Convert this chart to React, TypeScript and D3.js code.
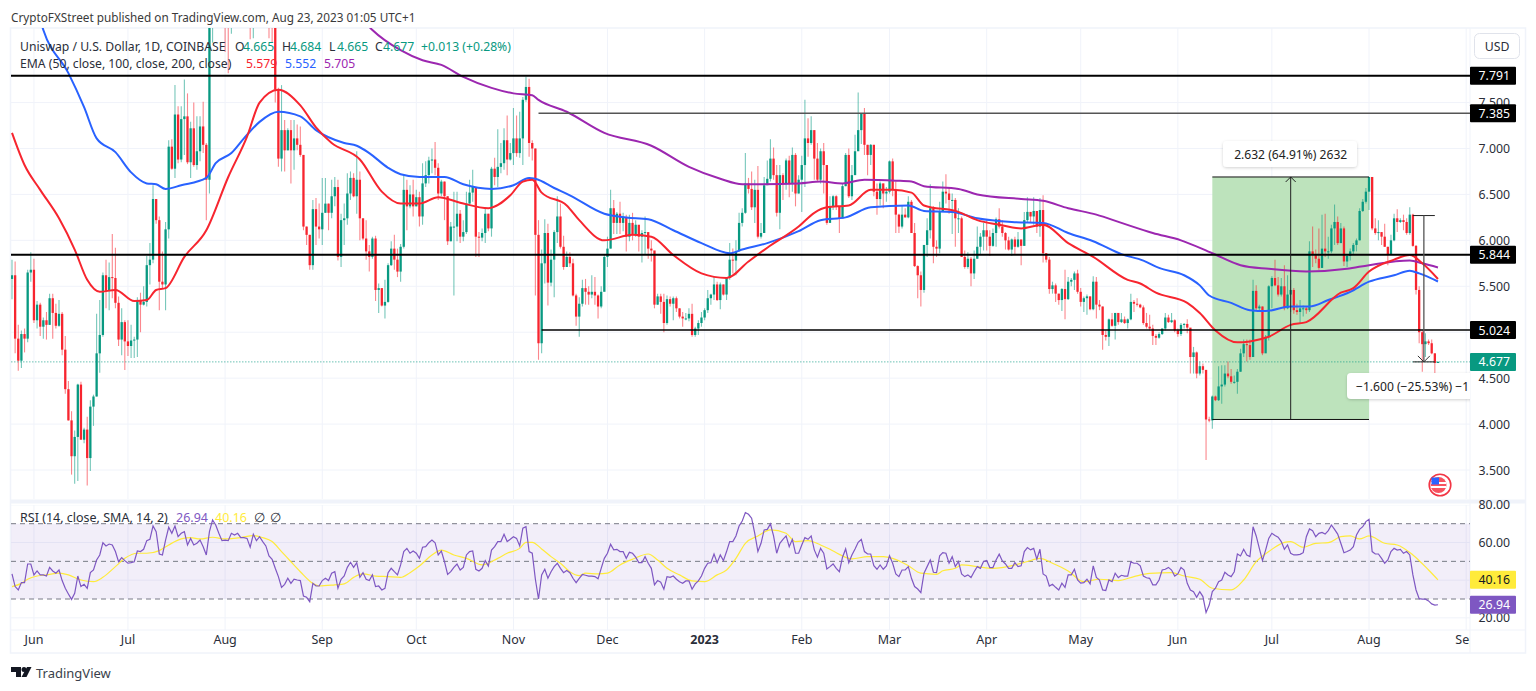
import React from "react";
import * as d3 from "d3";

const W = 1536;
const H = 691;

const startDate = Date.UTC(2022, 4, 25);
const firstOpen = 5.58;

const closes = [
  5.62,4.93,4.69,4.98,4.93,5.65,5.68,5.13,5.30,5.06,
  5.13,5.08,5.37,5.21,5.07,5.20,4.81,4.38,4.04,3.65,
  3.86,4.43,3.83,3.94,3.63,4.19,4.30,4.77,4.97,5.62,
  5.45,5.60,5.59,5.32,4.92,5.11,4.90,4.85,4.91,4.92,
  5.34,5.30,5.33,5.73,5.79,6.45,6.22,5.55,5.52,6.12,
  7.02,6.78,7.37,6.88,7.32,7.35,6.85,7.22,6.82,6.97,
  7.24,7.04,6.66,8.55,8.60,8.70,8.90,9.10,8.80,8.60,
  8.90,9.00,9.20,9.40,9.10,9.00,8.90,9.00,9.10,9.30,
  9.50,9.30,9.00,8.70,7.64,6.89,7.20,6.98,7.20,6.98,
  7.11,7.04,6.93,6.15,6.06,5.73,6.34,6.15,6.12,6.30,
  6.40,6.30,6.48,6.58,5.82,6.22,6.24,6.51,6.68,6.48,
  6.66,6.24,6.02,5.88,5.82,6.02,5.46,5.48,5.29,5.33,
  5.73,5.91,5.79,5.66,5.93,6.55,6.37,6.50,6.37,6.47,
  6.26,6.62,6.71,6.87,6.88,6.79,6.51,6.64,6.48,5.99,
  6.15,6.15,6.29,6.04,6.09,6.40,6.52,6.58,6.04,6.03,
  6.08,6.29,6.13,6.78,6.69,6.80,6.84,7.09,6.88,6.95,
  7.11,6.95,7.11,7.53,7.67,7.06,7.00,6.06,4.88,5.75,
  6.08,5.54,5.79,6.09,6.26,5.93,5.71,5.82,5.75,5.40,
  5.17,5.31,5.48,5.44,5.41,5.44,5.40,5.28,5.44,5.82,
  5.91,6.35,6.19,6.29,6.19,6.25,6.04,6.19,6.06,6.17,
  6.04,6.08,6.09,5.91,5.89,5.30,5.39,5.33,5.10,5.36,
  5.31,5.37,5.26,5.17,5.15,5.15,5.20,4.97,5.04,5.10,
  5.16,5.24,5.37,5.41,5.52,5.35,5.52,5.41,5.59,5.79,
  5.78,5.88,6.19,6.30,6.62,6.56,6.36,6.55,6.04,6.08,
  6.60,6.67,6.89,6.71,6.30,6.71,6.62,6.87,6.62,6.93,
  6.51,6.66,6.82,7.11,7.06,7.20,6.89,6.66,6.97,6.82,
  6.19,6.37,6.48,6.37,6.24,6.59,6.93,6.48,6.71,6.97,
  7.20,7.38,7.04,6.93,7.04,6.53,6.45,6.62,6.51,6.53,
  6.86,6.55,6.28,6.15,6.28,6.25,6.42,6.08,5.72,5.62,
  5.46,5.95,6.11,6.35,5.93,5.91,6.31,6.53,6.51,6.44,
  6.44,6.24,6.24,5.82,5.71,5.80,5.64,5.80,5.93,6.04,
  6.11,6.04,5.94,6.08,6.23,6.15,6.08,6.00,5.90,6.01,
  5.93,6.01,5.94,6.22,6.31,6.26,6.32,6.15,6.33,5.86,
  5.79,5.47,5.51,5.42,5.35,5.47,5.36,5.55,5.57,5.64,
  5.44,5.33,5.37,5.39,5.25,5.55,5.30,5.28,4.97,4.95,
  5.14,5.07,5.21,5.11,5.14,5.10,5.14,5.33,5.31,5.30,
  5.27,5.10,5.06,5.04,4.96,4.94,4.98,5.04,5.16,5.11,
  5.13,5.02,4.98,5.08,5.09,5.05,4.73,4.78,4.55,4.63,
  4.59,4.05,4.04,4.30,4.26,4.41,4.43,4.55,4.52,4.46,
  4.46,4.57,4.77,4.87,4.86,4.73,5.45,5.26,5.28,4.77,
  4.95,5.50,5.59,5.51,5.41,5.50,5.26,5.41,5.46,5.24,
  5.22,5.26,5.26,5.24,5.88,5.84,5.80,5.70,5.91,5.88,
  5.88,6.13,6.20,5.97,6.13,5.77,5.83,5.88,5.95,6.00,
  6.32,6.42,6.53,6.69,6.13,6.08,6.09,6.04,5.93,5.84,
  6.00,6.24,6.20,6.22,6.20,6.08,6.28,5.94,5.46,5.00,
  4.87,4.90,4.88,4.77,4.665,4.677,
];

const highs = [
  5.79,5.77,5.08,5.02,5.04,5.68,5.87,5.80,5.34,5.32,
  5.16,5.22,5.42,5.42,5.31,5.35,5.22,4.96,4.47,4.14,
  3.93,4.44,4.46,3.96,4.08,4.26,4.32,5.20,5.35,5.65,
  5.79,5.76,6.07,5.92,5.39,5.26,5.13,5.13,5.08,4.95,
  5.38,5.43,5.50,5.83,5.97,6.60,6.45,6.26,5.88,6.20,
  7.09,7.10,7.69,7.46,7.46,7.75,7.60,7.29,7.50,7.35,
  7.35,7.51,7.06,8.80,8.80,8.90,9.10,9.30,9.30,9.00,
  9.10,9.20,9.40,9.60,9.50,9.30,9.20,9.20,9.30,9.50,
  9.70,9.60,9.40,9.10,8.80,7.66,7.69,7.31,7.22,7.31,
  7.31,7.26,7.24,6.93,6.15,6.06,6.44,6.46,6.40,6.68,
  6.68,6.40,6.66,6.69,6.66,6.29,6.40,6.73,6.75,6.73,
  6.97,6.75,6.24,6.22,5.95,6.04,6.05,5.53,5.48,5.57,
  5.75,5.99,6.06,5.91,5.96,6.71,6.66,6.60,6.66,6.55,
  6.53,6.84,6.86,6.91,7.00,7.07,6.84,6.66,6.64,6.48,
  6.20,6.53,6.53,6.33,6.22,6.53,6.66,6.77,6.58,6.09,
  6.13,6.35,6.29,6.80,6.90,7.21,7.06,7.22,7.36,7.06,
  7.44,7.36,7.40,7.56,7.78,7.76,7.09,7.00,6.22,5.90,
  6.23,6.18,5.90,6.11,6.48,6.40,6.05,5.88,5.87,5.80,
  5.42,5.38,5.57,5.58,5.50,5.62,5.60,5.41,5.50,5.84,
  6.04,6.55,6.44,6.31,6.42,6.30,6.28,6.28,6.30,6.22,
  6.09,6.11,6.26,6.09,6.00,5.79,5.42,5.42,5.42,5.40,
  5.39,5.39,5.39,5.26,5.22,5.21,5.26,5.31,5.06,5.13,
  5.22,5.26,5.46,5.42,5.60,5.55,5.54,5.52,5.60,5.97,
  5.91,6.00,6.30,6.35,6.95,6.68,6.75,6.66,6.81,6.19,
  6.69,6.87,7.10,7.01,6.82,6.82,6.73,6.89,6.92,7.01,
  6.95,6.71,6.92,7.53,7.33,7.35,7.20,7.06,7.00,7.06,
  6.82,6.48,6.49,6.49,6.37,6.62,6.95,7.00,6.82,7.15,
  7.61,7.38,7.44,7.04,7.05,7.04,6.62,6.64,6.62,6.58,
  6.87,6.89,6.64,6.29,6.38,6.35,6.48,6.44,6.19,5.73,
  5.66,5.95,6.24,6.61,6.37,6.00,6.42,6.64,6.72,6.58,
  6.51,6.46,6.35,6.26,5.89,5.87,5.82,5.89,6.15,6.08,
  6.19,6.22,6.11,6.13,6.25,6.35,6.22,6.09,6.04,6.02,
  6.04,6.09,6.00,6.31,6.47,6.31,6.47,6.32,6.46,6.49,
  5.86,5.82,5.55,5.53,5.42,5.48,5.68,5.60,5.59,5.66,
  5.68,5.48,5.39,5.41,5.39,5.61,5.60,5.35,5.28,5.02,
  5.15,5.21,5.21,5.21,5.21,5.17,5.15,5.42,5.35,5.37,
  5.31,5.29,5.21,5.19,5.08,4.98,5.00,5.04,5.21,5.19,
  5.21,5.14,5.04,5.10,5.10,5.14,5.02,4.84,4.79,4.68,
  4.66,4.59,4.08,4.31,4.31,4.63,4.64,4.64,4.68,4.60,
  4.53,4.60,4.82,4.92,4.92,4.92,5.57,5.51,5.30,5.28,
  4.97,5.51,5.61,5.79,5.60,5.59,5.73,5.62,5.57,5.48,
  5.31,5.35,5.29,5.28,5.99,6.15,5.90,6.13,6.28,6.29,
  6.04,6.17,6.39,6.26,6.19,6.15,5.85,5.91,5.97,6.02,
  6.35,6.45,6.57,6.69,6.69,6.24,6.22,6.09,6.18,5.93,
  6.06,6.29,6.34,6.24,6.28,6.24,6.36,6.29,5.95,5.50,
  5.02,4.99,4.92,4.92,4.77,4.684,
];

const lows = [
  5.36,4.77,4.58,4.61,4.78,4.89,5.55,5.10,5.04,4.96,
  4.93,4.92,5.08,4.93,5.04,5.06,4.75,4.33,4.04,3.45,
  3.35,3.38,3.83,3.79,3.33,3.49,3.98,4.30,4.56,4.95,
  5.26,5.24,5.37,5.26,4.85,4.75,4.59,4.74,4.72,4.72,
  4.73,5.00,5.29,5.28,5.52,5.75,6.18,5.24,5.48,5.24,
  6.02,6.77,6.68,6.84,6.85,6.93,6.83,6.68,6.80,6.77,
  6.86,6.95,6.22,6.51,8.15,8.45,8.50,8.70,8.05,7.82,
  8.25,8.60,8.70,9.00,8.90,8.70,8.19,8.20,8.80,9.00,
  9.10,9.00,8.20,8.15,7.50,6.80,6.75,6.75,6.98,6.62,
  6.77,6.98,6.91,6.11,5.95,5.68,5.68,5.95,6.02,5.95,
  6.30,6.11,6.24,6.37,5.78,5.71,5.95,6.17,6.44,6.47,
  6.29,6.00,6.00,5.79,5.66,5.80,5.34,5.21,5.28,5.15,
  5.32,5.72,5.68,5.60,5.55,5.91,6.11,6.35,6.26,6.37,
  6.15,6.17,6.58,6.62,6.73,6.71,6.44,6.48,6.22,5.95,
  5.99,5.40,5.99,5.97,5.99,6.07,6.40,6.42,5.82,5.82,
  5.99,5.97,6.10,6.04,6.60,6.58,6.73,6.77,6.71,6.87,
  6.82,6.91,6.90,6.82,7.51,6.91,6.87,5.40,4.70,4.77,
  5.53,5.29,5.50,5.38,5.97,5.91,5.68,5.71,5.71,5.39,
  5.07,4.95,5.28,5.30,5.30,5.37,5.30,5.15,5.26,5.45,
  5.71,5.91,6.07,6.07,6.07,6.10,5.88,5.99,6.00,6.04,
  5.88,5.76,5.84,5.80,5.77,5.26,5.30,5.20,5.00,5.08,
  5.28,5.13,5.22,5.15,5.06,5.13,5.12,4.95,4.95,4.97,
  5.06,5.13,5.21,5.30,5.35,5.34,5.25,5.40,5.35,5.57,
  5.64,5.62,5.90,6.15,6.29,6.51,6.33,6.19,6.02,6.02,
  6.17,6.62,6.64,6.66,6.26,6.12,6.44,6.55,6.47,6.53,
  6.37,6.51,6.31,6.58,6.91,7.04,6.66,6.64,6.62,6.51,
  6.17,6.24,6.33,6.33,6.08,6.24,6.59,6.46,6.44,6.73,
  7.05,7.05,6.93,6.71,6.82,6.48,6.28,6.38,6.35,6.42,
  6.51,6.48,6.08,6.08,6.13,6.25,6.24,6.08,5.71,5.37,
  5.28,5.43,5.82,6.02,5.75,5.82,5.86,6.31,6.40,6.29,
  6.07,5.93,6.08,5.82,5.69,5.69,5.50,5.58,5.80,5.84,
  5.89,5.89,5.83,5.93,5.93,6.13,6.04,5.90,5.89,5.83,
  5.84,5.92,5.73,5.94,6.20,6.19,6.17,6.08,6.04,5.76,
  5.76,5.42,5.42,5.33,5.30,5.23,5.14,5.35,5.50,5.46,
  5.42,5.28,5.22,5.19,5.24,5.24,5.15,5.24,4.81,4.91,
  4.85,5.06,4.92,5.08,5.10,5.09,5.04,5.13,5.22,5.28,
  5.26,5.08,5.04,5.02,4.86,4.86,4.93,4.97,5.02,5.10,
  5.10,5.00,4.95,4.96,5.04,4.99,4.55,4.55,4.50,4.53,
  4.55,3.61,4.02,3.95,4.25,4.25,4.22,4.41,4.50,4.44,
  4.44,4.33,4.57,4.73,4.68,4.70,4.73,5.24,5.22,4.75,
  4.80,4.91,5.26,5.50,5.39,5.39,5.24,5.25,5.22,5.20,
  5.19,5.10,5.17,5.20,5.22,5.71,5.75,5.68,5.70,5.82,
  5.80,5.86,5.95,5.95,5.97,5.72,5.71,5.78,5.84,5.88,
  6.00,6.31,6.40,6.33,6.11,6.06,6.00,5.95,5.93,5.73,
  5.84,5.99,6.09,6.19,6.11,6.06,6.06,5.93,5.41,4.88,
  4.57,4.73,4.86,4.76,4.50,4.665,
];

const rsiValues = [
  43.3,36.6,34.8,38.7,38.7,48.6,48.6,42.8,44.9,42.8,42.8,42.2,46.8,44.9,43.7,45.4,39.8,35.7,32.7,29.8,
  33.0,42.2,36.6,37.8,35.7,44.0,45.4,50.7,53.4,59.9,58.2,59.2,58.7,55.2,49.8,52.0,50.4,49.0,49.3,49.8,
  55.5,55.2,56.4,61.0,61.7,68.8,65.8,53.9,53.4,61.3,68.1,64.9,68.8,63.1,64.9,65.8,58.7,62.2,58.7,59.6,
  61.3,57.8,53.4,65.8,72.0,69.3,64.9,61.0,61.3,61.0,64.9,64.0,64.9,62.6,62.6,62.2,57.5,64.4,61.0,63.1,
  60.5,58.2,52.9,51.1,46.3,41.9,36.2,37.8,41.0,38.3,40.5,40.1,39.8,31.6,30.9,28.6,38.3,36.9,36.9,39.8,
  41.0,39.8,43.7,44.5,35.7,40.5,42.2,46.8,49.5,46.8,49.3,41.5,44.0,40.5,39.8,42.8,36.6,36.9,34.8,35.7,
  44.0,46.3,44.5,42.8,48.1,55.2,56.9,54.3,55.5,54.3,51.6,57.5,57.8,59.9,61.3,59.9,53.4,55.5,49.8,43.1,
  44.5,46.8,48.6,45.4,46.8,53.4,55.2,55.5,45.8,44.9,46.3,50.4,47.5,56.0,57.8,60.5,
  60.5,64.4,60.5,61.7,63.1,62.2,58.2,67.6,68.4,55.2,54.3,40.5,30.0,42.8,45.8,41.0,44.5,47.2,49.0,46.3,
  44.0,45.1,44.0,41.0,38.7,41.0,43.0,42.6,42.2,42.1,41.9,40.7,46.3,51.6,54.3,59.1,56.1,56.4,55.2,55.2,
  51.6,54.8,54.3,52.2,49.3,49.3,52.5,49.0,46.3,37.5,39.8,38.9,35.2,41.9,41.5,42.2,40.5,39.2,38.4,39.6,
  39.6,35.2,38.0,39.6,42.2,46.3,49.0,49.3,53.9,49.3,53.4,50.4,55.2,60.5,60.5,63.5,68.8,71.4,75.9,75.0,
  72.9,64.9,55.2,59.6,66.7,67.0,69.9,63.5,54.3,59.6,61.7,63.5,57.8,61.7,54.3,54.3,58.7,62.6,61.7,63.5,
  56.1,52.2,56.9,
  54.3,46.0,47.2,48.6,46.3,44.5,52.2,56.6,49.3,53.4,56.6,60.1,61.7,55.2,53.9,53.9,47.7,45.8,48.1,45.8,
  47.6,53.0,49.0,43.3,41.9,45.4,45.4,47.2,41.0,36.6,35.3,33.4,43.7,47.2,50.7,44.2,44.0,52.9,54.6,54.3,
  49.0,52.5,47.2,49.9,43.3,41.9,42.8,41.4,44.5,47.2,46.3,49.9,50.4,46.7,46.7,50.7,53.8,50.2,48.6,46.3,
  46.3,49.3,47.2,47.6,55.2,57.3,56.1,56.9,51.1,56.4,43.3,42.2,36.9,37.8,36.2,34.8,38.4,36.2,42.8,42.8,
  45.8,40.1,38.4,38.7,40.5,38.0,47.6,41.5,40.1,34.8,34.5,40.1,39.2,43.7,41.4,42.6,42.2,42.2,49.7,49.0,
  49.0,47.6,
  42.2,41.3,41.0,37.5,37.5,40.1,45.4,45.8,46.8,45.4,42.2,43.3,46.8,45.4,38.3,34.8,33.9,30.9,33.9,31.3,
  22.8,26.8,33.9,35.7,39.2,40.1,44.2,42.8,41.9,44.5,53.9,52.9,56.4,53.4,52.5,68.4,63.5,56.9,50.4,56.0,
  62.2,64.9,63.7,62.8,60.5,56.4,58.7,54.3,53.4,53.4,53.7,54.6,63.1,67.2,66.3,63.1,64.9,65.4,64.5,66.3,
  69.3,67.0,64.5,59.6,54.6,55.2,56.0,57.8,64.0,67.0,68.4,71.1,72.3,55.2,53.9,53.9,51.6,49.0,50.7,55.2,
  56.9,56.0,56.4,54.3,55.2,53.4,42.8,34.8,30.2,29.9,29.9,29.0,27.4,26.8,26.94,
];

const rsiSmaDays = [
  0,3,5,8,11,15,18,22,26,29,33,36,40,43,47,50,54,57,60,64,68,73,77,80,83,86,89,92,96,98,
  103,106,109,112,116,120,124,127,130,134,137,141,145,150,155,158,162,164,166,169,172,175,178,181,183,187,190,194,198,203,
  206,209,213,217,221,225,228,231,234,238,242,247,250,254,258,261,264,268,273,278,281,286,290,295,297,301,303,308,313,320,
  324,328,332,337,342,347,353,358,363,370,374,379,383,389,393,397,401,406,408,412,416,420,424,427,430,433,438,442,447,452,455,
];
const rsiSmaValues = [
  36.6,38.3,40.5,42.2,42.8,43.7,42.8,40.1,39.2,41.5,47.2,51.6,54.3,54.3,55.7,58.7,61.9,62.6,61.9,62.8,61.9,62.6,63.7,62.6,60.5,55.2,49.8,44.5,38.3,36.9,
  37.5,38.0,41.5,43.3,42.2,41.9,41.5,44.0,47.5,53.4,56.0,53.4,51.6,48.1,51.6,54.3,56.9,60.1,60.1,56.6,52.5,49.0,44.5,42.4,43.7,43.3,43.7,48.1,51.1,53.9,
  50.7,46.3,42.8,39.6,39.2,42.8,45.4,51.6,59.6,63.5,66.7,64.9,60.5,61.0,58.7,56.4,53.7,51.3,52.5,52.5,51.6,47.7,43.7,43.1,45.0,46.3,48.1,47.2,46.3,48.1,
  49.9,51.6,49.0,44.9,39.2,40.5,39.8,41.9,43.6,44.0,42.2,40.5,35.7,34.8,40.1,49.8,55.2,60.1,60.5,57.5,59.6,59.9,63.1,63.5,61.9,63.5,59.6,58.7,53.4,45.4,40.16,
];

const emaRedDays = [
  0,4,9,15,20,24,28,33,39,43,46,49,55,62,69,75,79,85,92,97,102,111,118,124,130,136,143,152,159,163,166,169,177,181,189,198,204,211,220,228,235,241,251,256,260,267,274,281,287,291,302,308,315,322,329,337,345,356,360,365,375,379,384,391,395,401,408,413,424,428,433,441,446,450,455,
];
const emaRedValues = [
  7.17,6.82,6.55,6.24,5.90,5.57,5.44,5.46,5.34,5.35,5.46,5.48,5.82,6.11,6.69,7.13,7.50,7.64,7.47,7.23,7.06,6.88,6.53,6.40,6.40,6.47,6.41,6.35,6.49,6.64,6.66,6.52,6.38,6.22,6.00,6.06,6.04,5.84,5.64,5.59,5.77,5.92,6.15,6.30,6.36,6.38,6.55,6.55,6.52,6.38,6.31,6.22,6.17,6.13,6.17,5.97,5.82,5.57,5.53,5.43,5.32,5.21,5.02,4.89,4.90,4.95,5.08,5.11,5.43,5.48,5.66,5.79,5.84,5.75,5.579,
];

const emaBlueDays = [
  0,5,10,18,23,27,33,38,43,46,49,54,62,65,70,74,79,85,92,97,106,110,114,120,124,130,138,144,153,160,165,167,173,178,189,196,203,211,220,229,233,241,251,258,266,274,286,291,300,308,319,329,337,345,354,361,366,374,379,382,389,395,400,408,414,420,427,433,441,446,449,455,
];
const emaBlueValues = [
  9.60,8.95,8.29,7.82,7.45,7.11,6.96,6.74,6.62,6.61,6.56,6.60,6.68,6.84,6.95,7.11,7.29,7.40,7.35,7.20,7.06,7.03,6.95,6.79,6.72,6.69,6.69,6.61,6.56,6.60,6.68,6.67,6.57,6.49,6.29,6.25,6.23,6.11,5.97,5.86,5.90,5.97,6.10,6.22,6.25,6.36,6.38,6.32,6.31,6.24,6.20,6.19,6.08,5.99,5.85,5.78,5.70,5.62,5.51,5.40,5.32,5.24,5.23,5.28,5.28,5.35,5.44,5.55,5.62,5.67,5.64,5.552,
];

const emaPurpleDays = [
  100,115,124,131,137,144,153,160,166,168,177,189,204,216,226,233,251,258,265,272,282,287,291,302,308,322,329,337,346,354,364,373,383,392,401,413,426,433,446,450,455,
];
const emaPurpleValues = [
  9.00,8.29,8.07,7.96,7.91,7.78,7.66,7.60,7.58,7.53,7.40,7.17,7.03,6.80,6.67,6.61,6.62,6.64,6.62,6.66,6.65,6.64,6.59,6.56,6.50,6.45,6.43,6.35,6.28,6.19,6.08,6.00,5.86,5.73,5.69,5.66,5.69,5.73,5.78,5.75,5.705,
];

const priceTicks = [7.5, 7, 6.5, 6, 5.5, 5, 4.5, 4, 3.5];
const rsiTicks = [80, 60, 40, 20];
const rsiBands = [70, 50, 30];
const monthLabels = ["Jun", "Jul", "Aug", "Sep", "Oct", "Nov", "Dec", "2023", "Feb", "Mar", "Apr", "May", "Jun", "Jul", "Aug", "Sep"];
const monthDates = [
  Date.UTC(2022, 5, 1), Date.UTC(2022, 6, 1), Date.UTC(2022, 7, 1), Date.UTC(2022, 8, 1),
  Date.UTC(2022, 9, 1), Date.UTC(2022, 10, 1), Date.UTC(2022, 11, 1), Date.UTC(2023, 0, 1),
  Date.UTC(2023, 1, 1), Date.UTC(2023, 2, 1), Date.UTC(2023, 3, 1), Date.UTC(2023, 4, 1),
  Date.UTC(2023, 5, 1), Date.UTC(2023, 6, 1), Date.UTC(2023, 7, 1), Date.UTC(2023, 8, 1),
];

const levelBlack1 = 7.791;
const levelGray = 7.385;
const levelBlack2 = 5.844;
const levelBlack3 = 5.024;
const lastPrice = 4.677;
const rangeUpDays = [383, 433];
const rangeUpPrices = [4.05, 6.69];
const rangeDownDays = [447, 454];
const rangeDownPrices = [6.27, 4.677];
const levelGrayStartDay = 168;
const levelBlack3StartDay = 169;

const GREEN = "#089981";
const RED = "#f7252f";
const BLUE = "#2962ff";
const PURPLE = "#9c27b0";
const RSI = "#7e57c2";
const YELLOW = "#ffeb3b";
const GRID = "#f0f3fa";
const FONT = "'Noto Sans', sans-serif";

const plotL = 11;
const plotR = 1470;
const priceTop = 28;
const priceBottom = 499;
const rsiTop = 505;
const rsiBottom = 630;

const x = d3.scaleLinear().domain([0, 455]).range([12, 12 + 455 * 3.134]);
const y = d3.scaleLinear().domain([3.5, 7]).range([470, 148.5]);
const ry = d3.scaleLinear().domain([30, 70]).range([599, 523.7]);

const dayOf = (t: number) => d3.utcDay.count(new Date(startDate), new Date(t));

function series(days: number[], vals: number[], sy: (v: number) => number) {
  const line = d3
    .line<number>()
    .x((d) => x(d))
    .y((_, i) => sy(vals[i]))
    .curve(d3.curveMonotoneX);
  return line(days) as string;
}

const rsiLine = d3
  .line<number>()
  .x((_, i) => x(i))
  .y((d) => ry(d))(rsiValues) as string;

function PriceBox({ fill, color, py, label }: { fill: string; color: string; py: number; label: string }) {
  return (
    <g>
      <rect x={plotR} y={py - 9} width={46} height={18} fill={fill} rx={1} />
      <text x={1510} y={py} textAnchor="end" dominantBaseline="central" fill={color} fontSize={12.3}>
        {label}
      </text>
    </g>
  );
}

export default function App() {
  const monthX = monthDates.map((t) => x(dayOf(t)));
  const upL = x(rangeUpDays[0]);
  const upR = x(rangeUpDays[1]);
  const upT = y(rangeUpPrices[1]);
  const upB = y(rangeUpPrices[0]);
  const upM = (upL + upR) / 2;
  const dnL = x(rangeDownDays[0]);
  const dnR = x(rangeDownDays[1]);
  const dnT = y(rangeDownPrices[0]);
  const dnB = y(rangeDownPrices[1]);
  const dnM = (dnL + dnR) / 2;
  return (
    <svg
      width={W}
      height={H}
      viewBox={`0 0 ${W} ${H}`}
      style={{ position: "absolute", left: 0, top: 0, display: "block", background: "#fff" }}
      fontFamily={FONT}
    >
      <defs>
        <clipPath id="pricePane">
          <rect x={plotL} y={priceTop} width={plotR - plotL} height={priceBottom - priceTop} />
        </clipPath>
        <clipPath id="rsiPane">
          <rect x={plotL} y={rsiTop} width={plotR - plotL} height={rsiBottom - rsiTop} />
        </clipPath>
        <clipPath id="timeAxis">
          <rect x={plotL} y={rsiBottom} width={plotR - plotL} height={24} />
        </clipPath>
        <filter id="soft" x="-10%" y="-30%" width="120%" height="170%">
          <feDropShadow dx={0} dy={1} stdDeviation={1.5} floodColor="#000" floodOpacity={0.18} />
        </filter>
      </defs>

      <text x={11} y={17} dominantBaseline="central" fontSize={11.75} fill="#3a3a3a">
        CryptoFXStreet published on TradingView.com, Aug 23, 2023 01:05 UTC+1
      </text>

      {/* frame */}
      <rect x={10.5} y={28} width={1515} height={625} fill="none" stroke={GRID} strokeWidth={1.5} />
      <line x1={plotL} x2={1525} y1={501.5} y2={501.5} stroke={GRID} strokeWidth={4} />
      <line x1={plotL} x2={1525} y1={rsiBottom} y2={rsiBottom} stroke={GRID} strokeWidth={1} />
      <line x1={plotR} x2={plotR} y1={28} y2={653} stroke={GRID} strokeWidth={1} />

      {/* price pane */}
      <g clipPath="url(#pricePane)">
        {monthX.map((mx, i) => (
          <line key={i} x1={mx} x2={mx} y1={priceTop} y2={priceBottom} stroke={GRID} strokeWidth={1} />
        ))}
        {priceTicks.map((t) => (
          <line key={t} x1={plotL} x2={plotR} y1={y(t)} y2={y(t)} stroke={GRID} strokeWidth={1} />
        ))}
        <rect x={upL} y={upT} width={upR - upL} height={upB - upT} fill="#bde3bc" />
        {closes.map((c, i) => {
          const o = i === 0 ? firstOpen : closes[i - 1];
          const col = c >= o ? GREEN : RED;
          const cx = x(i);
          return (
            <g key={i}>
              <line x1={cx} x2={cx} y1={y(highs[i])} y2={y(lows[i])} stroke={col} strokeWidth={1.1} strokeOpacity={0.55} />
              <rect x={cx - 1.15} width={2.3} y={y(Math.max(o, c))} height={Math.max(1, Math.abs(y(o) - y(c)))} fill={col} />
            </g>
          );
        })}
        <line x1={plotL} x2={plotR} y1={y(lastPrice)} y2={y(lastPrice)} stroke={GREEN} strokeOpacity={0.6} strokeWidth={1} strokeDasharray="1.5 1.5" />
        <path d={series(emaPurpleDays, emaPurpleValues, y)} fill="none" stroke={PURPLE} strokeWidth={2} />
        <path d={series(emaBlueDays, emaBlueValues, y)} fill="none" stroke={BLUE} strokeWidth={2} />
        <path d={series(emaRedDays, emaRedValues, y)} fill="none" stroke={RED} strokeWidth={2} />

        <line x1={plotL} x2={plotR} y1={y(levelBlack1)} y2={y(levelBlack1)} stroke="#000" strokeWidth={2} />
        <line x1={x(levelGrayStartDay)} x2={plotR} y1={y(levelGray)} y2={y(levelGray)} stroke="#555" strokeWidth={1.5} />
        <line x1={plotL} x2={plotR} y1={y(levelBlack2)} y2={y(levelBlack2)} stroke="#000" strokeWidth={2} />
        <line x1={x(levelBlack3StartDay)} x2={plotR} y1={y(levelBlack3)} y2={y(levelBlack3)} stroke="#000" strokeWidth={1.7} />

        {/* long range */}
        <line x1={upL} x2={upR} y1={upT} y2={upT} stroke="#111" strokeWidth={1} />
        <line x1={upL} x2={upR} y1={upB} y2={upB} stroke="#111" strokeWidth={1} />
        <line x1={upM} x2={upM} y1={upT} y2={upB} stroke="#222" strokeWidth={1} />
        <path d={`M${upM - 5} ${upT + 5}L${upM} ${upT}L${upM + 5} ${upT + 5}`} fill="none" stroke="#222" strokeWidth={1} />

        {/* down range */}
        <line x1={dnL} x2={dnR} y1={dnT} y2={dnT} stroke="#222" strokeWidth={1} />
        <line x1={dnL} x2={dnR} y1={dnB} y2={dnB} stroke="#222" strokeWidth={1} />
        <line x1={dnM} x2={dnM} y1={dnT} y2={dnB} stroke="#555" strokeWidth={1.3} />
        <path d={`M${dnM - 6} ${dnB - 6}L${dnM} ${dnB}L${dnM + 6} ${dnB - 6}`} fill="none" stroke="#333" strokeWidth={1} />

        <g filter="url(#soft)">
          <rect x={1223} y={141} width={134} height={26} rx={4} fill="#fff" />
        </g>
        <text x={upM} y={154} textAnchor="middle" dominantBaseline="central" fontSize={12.1} fill="#222">
          2.632 (64.91%) 2632
        </text>
        <g filter="url(#soft)">
          <rect x={1347} y={373} width={150} height={26} rx={4} fill="#fff" />
        </g>
        <text x={1356} y={386} dominantBaseline="central" fontSize={12.1} fill="#222">
          −1.600 (−25.53%) −1
        </text>

        {/* flag */}
        <circle cx={1440} cy={485} r={10.8} fill="#fff" stroke="#f23645" strokeWidth={1.6} />
        <circle cx={1438.5} cy={485} r={8} fill="#f7525f" />
        <rect x={1431} y={482} width={15} height={2} fill="#fff" />
        <rect x={1431} y={486} width={15} height={2} fill="#fff" />
        <rect x={1431.5} y={477.5} width={7.5} height={7} fill="#2962ff" />
      </g>

      {/* price legend */}
      <g fontSize={12.2} dominantBaseline="central">
        <text x={20} y={46} fill="#2a2e39">
          Uniswap / U.S. Dollar, 1D, COINBASE
        </text>
        <text x={235} y={46} fill="#2a2e39">O</text>
        <text x={243} y={46} fill={GREEN}>4.665</text>
        <text x={282} y={46} fill="#2a2e39">H</text>
        <text x={290} y={46} fill={GREEN}>4.684</text>
        <text x={329} y={46} fill="#2a2e39">L</text>
        <text x={337} y={46} fill={GREEN}>4.665</text>
        <text x={375} y={46} fill="#2a2e39">C</text>
        <text x={383} y={46} fill={GREEN}>4.677</text>
        <text x={421} y={46} fill={GREEN}>+0.013 (+0.28%)</text>
        <text x={20} y={63} fill="#2a2e39">
          EMA (50, close, 100, close, 200, close)
        </text>
        <text x={246} y={63} fill={RED}>5.579</text>
        <text x={285} y={63} fill={BLUE}>5.552</text>
        <text x={324} y={63} fill={PURPLE}>5.705</text>
      </g>

      {/* rsi pane */}
      <g clipPath="url(#rsiPane)">
        {monthX.map((mx, i) => (
          <line key={i} x1={mx} x2={mx} y1={rsiTop} y2={rsiBottom} stroke={GRID} strokeWidth={1} />
        ))}
        {rsiTicks.map((t) => (
          <line key={t} x1={plotL} x2={plotR} y1={ry(t)} y2={ry(t)} stroke={GRID} strokeWidth={1} />
        ))}
        <rect x={plotL} width={plotR - plotL} y={ry(70)} height={ry(30) - ry(70)} fill={RSI} fillOpacity={0.1} />
        {rsiBands.map((t) => (
          <line key={t} x1={plotL} x2={plotR} y1={ry(t)} y2={ry(t)} stroke="#787b86" strokeWidth={1} strokeDasharray="5 4" />
        ))}
        <path d={series(rsiSmaDays, rsiSmaValues, ry)} fill="none" stroke={YELLOW} strokeWidth={1.2} />
        <path d={rsiLine} fill="none" stroke={RSI} strokeWidth={1.2} />
      </g>
      <g fontSize={12.5} dominantBaseline="central">
        <text x={20} y={517} fill="#2a2e39">RSI (14, close, SMA, 14, 2)</text>
        <text x={176} y={517} fill={RSI}>26.94</text>
        <text x={215} y={517} fill={YELLOW}>40.16</text>
        <text x={254} y={517} fill="#2a2e39">∅</text>
        <text x={270} y={517} fill="#2a2e39">∅</text>
      </g>

      {/* time axis */}
      <g clipPath="url(#timeAxis)" fontSize={12.5} fill="#2a2e39">
        {monthLabels.map((m, i) => (
          <text key={i} x={monthX[i]} y={639} textAnchor="middle" dominantBaseline="central" fontWeight={m === "2023" ? 700 : 400}>
            {m}
          </text>
        ))}
      </g>

      {/* right axis */}
      <g fontSize={12.3} fill="#2a2e39">
        {priceTicks.map((t) => (
          <text key={t} x={1510} y={y(t)} textAnchor="end" dominantBaseline="central">
            {t.toFixed(3)}
          </text>
        ))}
        {rsiTicks.map((t) => (
          <text key={t} x={1510} y={ry(t)} textAnchor="end" dominantBaseline="central">
            {t.toFixed(2)}
          </text>
        ))}
      </g>
      <PriceBox fill="#000" color="#fff" py={y(levelBlack1)} label={levelBlack1.toFixed(3)} />
      <PriceBox fill="#000" color="#fff" py={y(levelGray)} label={levelGray.toFixed(3)} />
      <PriceBox fill="#000" color="#fff" py={y(levelBlack2)} label={levelBlack2.toFixed(3)} />
      <PriceBox fill="#000" color="#fff" py={y(levelBlack3)} label={levelBlack3.toFixed(3)} />
      <PriceBox fill={GREEN} color="#fff" py={y(lastPrice)} label={lastPrice.toFixed(3)} />
      <PriceBox fill={YELLOW} color="#131722" py={ry(40.16)} label="40.16" />
      <PriceBox fill={RSI} color="#fff" py={ry(26.94)} label="26.94" />

      {/* currency */}
      <rect x={1474.5} y={33.5} width={45} height={25} rx={5} fill="#fff" stroke="#e0e3eb" />
      <text x={1497} y={46} textAnchor="middle" dominantBaseline="central" fontSize={12.3} fill="#2a2e39">
        USD
      </text>

      {/* logo */}
      <path d="M11 667h10v10h-5v-5h-5z" fill="#131722" />
      <circle cx={24} cy={669.5} r={2.5} fill="#131722" />
      <path d="M21.5 677L27 667h4.5l-5 10z" fill="#131722" />
      <text x={36} y={673} dominantBaseline="central" fontSize={13} fill="#3a3f4b">
        TradingView
      </text>
    </svg>
  );
}
